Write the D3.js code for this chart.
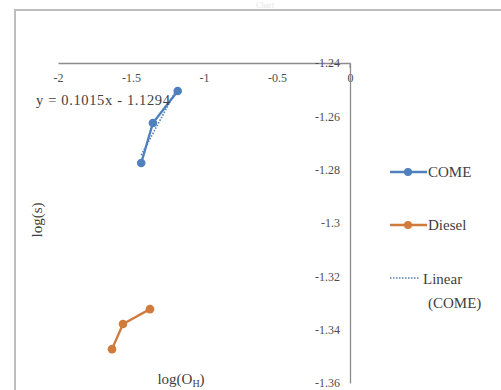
<!DOCTYPE html>
<html>
<head>
<meta charset="utf-8">
<script src="https://cdn.jsdelivr.net/npm/d3@7"></script>
<style>
  html, body { margin: 0; padding: 0; background: #fff; }
  svg { display: block; }
  text { font-family: "Liberation Serif", "Times New Roman", serif; }
</style>
</head>
<body>
<svg id="chart" width="501" height="390"></svg>
<script>
// log(O_H) vs log(s) for COME and Diesel
const comeX = [-1.43, -1.35, -1.18];
const comeY = [-1.2775, -1.2625, -1.2505];
const dieselX = [-1.63, -1.555, -1.37];
const dieselY = [-1.3473, -1.3379, -1.3323];
const trendSlope = 0.1015;
const trendIntercept = -1.1294;
const xTicks = [-2, -1.5, -1, -0.5, 0];
const yTicks = [-1.24, -1.26, -1.28, -1.3, -1.32, -1.34, -1.36];
const seriesNames = ["COME", "Diesel"];
const colors = { COME: "#4f81bd", Diesel: "#d07a3c" };

const svg = d3.select("#chart");

// outer chart frame
svg.append("rect")
  .attr("x", 15).attr("y", 10).attr("width", 500).attr("height", 400)
  .attr("fill", "#fff").attr("stroke", "#bdbdbd").attr("stroke-width", 2);

// faint chart title above the frame
svg.append("text").attr("x", 265).attr("y", 8)
  .attr("text-anchor", "middle").attr("font-size", 8).attr("fill", "#e6e6e6")
  .text("Chart");

const x = d3.scaleLinear().domain([-2, 0]).range([58, 350]);
const y = d3.scaleLinear().domain([-1.24, -1.36]).range([63, 383]);

// x axis along the top (y = -1.24), labels below the line
const xAxis = d3.axisBottom(x).tickValues(xTicks).tickSize(0).tickPadding(10)
  .tickFormat(d => d === 0 ? "0" : String(d));
const gx = svg.append("g").attr("transform", `translate(0,${y(-1.24)})`).call(xAxis);
gx.select(".domain").attr("stroke", "#8c8c8c").attr("stroke-width", 1.3);
gx.selectAll("text").attr("font-family", "Liberation Serif").attr("font-size", 12)
  .attr("fill", "#4d4d4d");

// y axis at x = 0, labels to the left
const yAxis = d3.axisLeft(y).tickValues(yTicks).tickSize(0).tickPadding(10)
  .tickFormat(d => String(d));
const gy = svg.append("g").attr("transform", `translate(${x(0)},0)`).call(yAxis);
gy.select(".domain").attr("stroke", "#8c8c8c").attr("stroke-width", 1.3);
gy.selectAll("text").attr("font-family", "Liberation Serif").attr("font-size", 12)
  .attr("fill", "#4d4d4d");
// small tick on the top-right corner
gy.append("line").attr("x1", 0).attr("x2", 0).attr("y1", y(-1.24)).attr("y2", y(-1.24) + 5)
  .attr("stroke", "#8c8c8c");

const line = d3.line().x(d => x(d[0])).y(d => y(d[1]));

// linear trend of COME, from the fitted equation
const tx = d3.extent(comeX);
const trend = tx.map(v => [v, trendSlope * v + trendIntercept]);
svg.append("path").datum(trend).attr("d", line)
  .attr("fill", "none").attr("stroke", colors.COME).attr("stroke-width", 1.6)
  .attr("stroke-dasharray", "1.5,1.5");

function drawSeries(xs, ys, color) {
  const pts = xs.map((v, i) => [v, ys[i]]);
  svg.append("path").datum(pts).attr("d", line)
    .attr("fill", "none").attr("stroke", color).attr("stroke-width", 2.4);
  svg.selectAll(null).data(pts).enter().append("circle")
    .attr("cx", d => x(d[0])).attr("cy", d => y(d[1])).attr("r", 4.3)
    .attr("fill", color);
}
drawSeries(comeX, comeY, colors.COME);
drawSeries(dieselX, dieselY, colors.Diesel);

// trend equation
svg.append("text").attr("x", 36).attr("y", 105)
  .attr("font-size", 14.5).attr("fill", "#404040").attr("textLength", 134)
  .text(`y = ${trendSlope}x - ${Math.abs(trendIntercept)}`);

// axis titles
svg.append("text").attr("transform", "translate(42,220) rotate(-90)")
  .attr("text-anchor", "middle").attr("font-size", 15).attr("fill", "#404040")
  .text("log(s)");
const xt = svg.append("text").attr("x", 181).attr("y", 384)
  .attr("text-anchor", "middle").attr("font-size", 15).attr("fill", "#404040");
xt.append("tspan").text("log(O");
xt.append("tspan").attr("font-size", 10).attr("dy", 3).text("H");
xt.append("tspan").attr("dy", -3).text(")");

// legend
const leg = svg.append("g");
const legY = { COME: 172, Diesel: 225 };
seriesNames.forEach(name => {
  const ly = legY[name];
  leg.append("line").attr("x1", 390).attr("x2", 427).attr("y1", ly).attr("y2", ly)
    .attr("stroke", colors[name]).attr("stroke-width", 2.4);
  leg.append("circle").attr("cx", 408).attr("cy", ly).attr("r", 4).attr("fill", colors[name]);
  leg.append("text").attr("x", 428).attr("y", ly + 5).attr("font-size", 15)
    .attr("fill", "#404040").text(name);
});
leg.append("line").attr("x1", 390).attr("x2", 420).attr("y1", 278).attr("y2", 278)
  .attr("stroke", colors.COME).attr("stroke-width", 1.3).attr("stroke-dasharray", "1.5,1.5");
leg.append("text").attr("x", 423).attr("y", 284).attr("font-size", 15)
  .attr("fill", "#404040").text("Linear");
leg.append("text").attr("x", 428).attr("y", 308).attr("font-size", 15)
  .attr("fill", "#404040").text("(COME)");
</script>
</body>
</html>
